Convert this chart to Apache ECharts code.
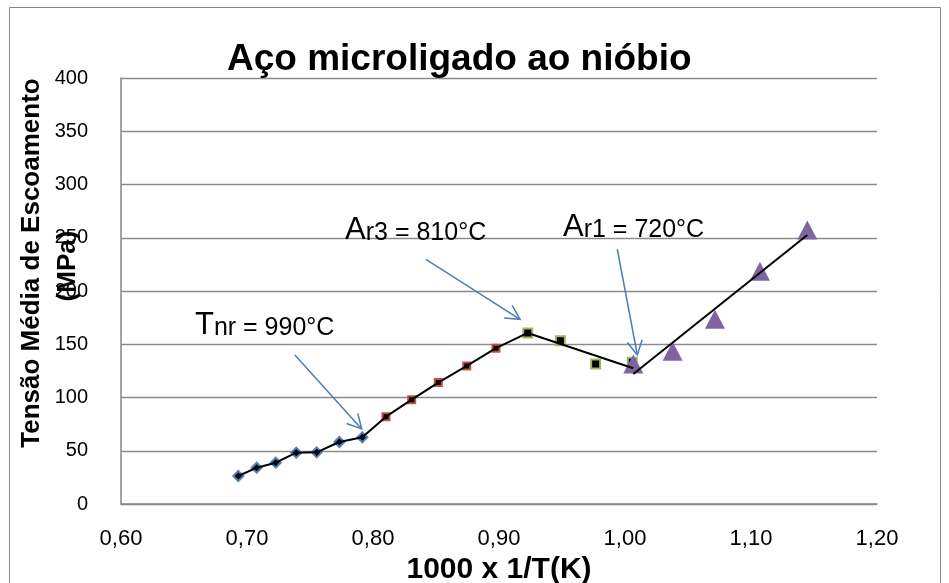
<!DOCTYPE html>
<html><head><meta charset="utf-8">
<script src="https://cdn.jsdelivr.net/npm/echarts@6/dist/echarts.min.js"></script>
<style>html,body{margin:0;padding:0;background:#fff}#c{width:949px;height:583px}</style>
</head><body><div id="c"></div>
<script>
// ---- data ----
const titleText = 'Aço microligado ao nióbio';
const xName = '1000 x 1/T(K)';
const yNameLines = ['Tensão Média de Escoamento', '(MPa)'];

const blueX = [0.6931, 0.7077, 0.7228, 0.7391, 0.7553, 0.7733, 0.7915];
const blueY = [26.3, 34.1, 38.8, 48.2, 48.5, 58.2, 62.6];
const redX = [0.8103, 0.8307, 0.8518, 0.8744, 0.8976];
const redY = [82.0, 98.0, 114.0, 129.6, 146.3];
const greenX = [0.9228, 0.9487, 0.9767, 1.0058];
const greenY = [160.6, 153.3, 131.4, 133.0];
const purpleX = [1.0066, 1.0378, 1.0714, 1.1071, 1.1447];
const purpleY = [131.5, 143.4, 173.5, 218.5, 257.3];

const greenTrendX = [0.9228, 1.0066];
const greenTrendY = [160.6, 127.5];
const purpleTrendX = [1.0066, 1.1447];
const purpleTrendY = [122.0, 252.6];

// annotations (data coordinates)
const labelTexts = [['T', 'nr = 990°C'], ['A', 'r3 = 810°C'], ['A', 'r1 = 720°C']];
const labelAnchorX = [0.6587, 0.7778, 0.9508];
const labelAnchorY = [158.7, 247.9, 250.7];
const arrowFromX = [0.7380, 0.8420, 0.9939];
const arrowFromY = [139.9, 229.8, 239.2];
const arrowToX = [0.7910, 0.9167, 1.0098];
const arrowToY = [70.5, 173.4, 139.9];

const zip = (a, b) => a.map((v, i) => [v, b[i]]);

const connectedLine = zip(blueX, blueY).concat(zip(redX, redY), [[greenX[0], greenY[0]]]);

const chart = echarts.init(document.getElementById('c'), null, {renderer: 'canvas'});
const FONT = '"Liberation Sans", Arial, sans-serif';

chart.setOption({
  animation: false,
  backgroundColor: '#fff',
  title: {
    text: titleText, left: 227, top: 41, padding: 0,
    textStyle: {fontFamily: FONT, fontWeight: 'bold', fontSize: 37, color: '#000'}
  },
  grid: {left: 121, right: 72, top: 78, bottom: 79, containLabel: false, outerBoundsMode: 'none'},
  xAxis: {
    type: 'value', min: 0.6, max: 1.2, interval: 0.1,
    name: xName, nameLocation: 'middle', nameGap: 47,
    nameTextStyle: {fontFamily: FONT, fontWeight: 'bold', fontSize: 30, color: '#000'},
    axisLine: {show: true, lineStyle: {color: '#868686', width: 1.5}},
    axisTick: {show: false},
    splitLine: {show: false},
    axisLabel: {
      fontFamily: FONT, fontSize: 22, color: '#000', margin: 24,
      formatter: v => v.toFixed(2).replace('.', ',')
    }
  },
  yAxis: {
    type: 'value', min: 0, max: 400, interval: 50,
    axisLine: {show: true, lineStyle: {color: '#868686', width: 1.5}},
    axisTick: {show: false},
    splitLine: {show: true, lineStyle: {color: '#8c8c8c', width: 1.3}},
    axisLabel: {fontFamily: FONT, fontSize: 20, color: '#000', margin: 33}
  },
  series: [
    {type: 'scatter', name: 'blue', data: zip(blueX, blueY), symbol: 'diamond', symbolSize: 10, z: 2,
     itemStyle: {color: '#000', borderColor: '#4F81BD', borderWidth: 2, opacity: 1}},
    {type: 'scatter', name: 'red', data: zip(redX, redY), symbol: 'rect', symbolSize: 7, z: 2,
     itemStyle: {color: '#000', borderColor: '#C0504D', borderWidth: 2, opacity: 1}},
    {type: 'scatter', name: 'green', data: zip(greenX, greenY), symbol: 'rect', symbolSize: 9, z: 2,
     itemStyle: {color: '#000', borderColor: '#9BBB59', borderWidth: 2, opacity: 1}},
    {type: 'scatter', name: 'purple', data: zip(purpleX, purpleY), symbol: 'triangle', symbolSize: [20, 19], z: 2,
     itemStyle: {color: '#8064A2', opacity: 1}},
    {type: 'line', data: connectedLine, showSymbol: false, symbol: 'none', z: 3,
     lineStyle: {color: '#000', width: 2}},
    {type: 'line', data: zip(greenTrendX, greenTrendY), showSymbol: false, symbol: 'none', z: 3,
     lineStyle: {color: '#000', width: 2}},
    {type: 'line', data: zip(purpleTrendX, purpleTrendY), showSymbol: false, symbol: 'none', z: 3,
     lineStyle: {color: '#000', width: 2}}
  ]
});

// annotations placed via the chart's own coordinate system
const px = (x, y) => chart.convertToPixel({xAxisIndex: 0, yAxisIndex: 0}, [x, y]);
const graphics = [{
  type: 'rect', silent: true, z: 0,
  shape: {x: 9.5, y: 7.5, width: 931, height: 600},
  style: {fill: 'none', stroke: '#868686', lineWidth: 1}
}];
// y-axis title (two rotated lines, second overlapping the tick labels like the reference)
const yNameX = [32, 68];
const yNameY = [263, 266];
yNameLines.forEach((t, i) => {
  graphics.push({
    type: 'text', x: yNameX[i], y: yNameY[i], rotation: Math.PI / 2, z: 10, silent: true,
    style: {text: t, align: 'center', verticalAlign: 'middle', fill: '#000',
      font: 'bold 26px ' + FONT}
  });
});
labelTexts.forEach((t, i) => {
  const p = px(labelAnchorX[i], labelAnchorY[i]);
  graphics.push({
    type: 'text', x: p[0], y: p[1] + 6, z: 10, silent: true,
    style: {
      text: '{a|' + t[0] + '}{b|' + t[1] + '}',
      align: 'left', verticalAlign: 'bottom',
      rich: {
        a: {fontFamily: FONT, fontSize: 31, fill: '#000', verticalAlign: 'bottom'},
        b: {fontFamily: FONT, fontSize: 25, fill: '#000', verticalAlign: 'bottom'}
      }
    }
  });
});
arrowFromX.forEach((_, i) => {
  const a = px(arrowFromX[i], arrowFromY[i]);
  const b = px(arrowToX[i], arrowToY[i]);
  const ang = Math.atan2(b[1] - a[1], b[0] - a[0]);
  const L = 16, sp = 28 * Math.PI / 180;
  const h1 = [b[0] - L * Math.cos(ang - sp), b[1] - L * Math.sin(ang - sp)];
  const h2 = [b[0] - L * Math.cos(ang + sp), b[1] - L * Math.sin(ang + sp)];
  graphics.push({type: 'line', z: 10, silent: true, shape: {x1: a[0], y1: a[1], x2: b[0], y2: b[1]},
    style: {stroke: '#4A7EBB', lineWidth: 1.5}});
  graphics.push({type: 'polyline', z: 10, silent: true, shape: {points: [h1, b, h2]},
    style: {stroke: '#4A7EBB', lineWidth: 1.5, fill: 'none'}});
});
chart.setOption({graphic: graphics});
</script>
</body></html>
